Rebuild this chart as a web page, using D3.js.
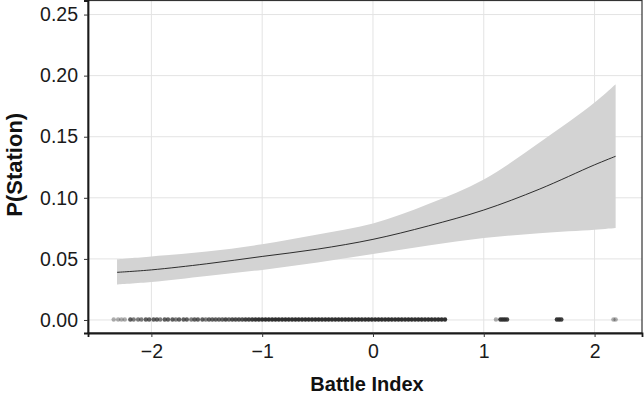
<!DOCTYPE html>
<html>
<head>
<meta charset="utf-8">
<script src="https://cdn.jsdelivr.net/npm/d3@7"></script>
<style>
  body { margin: 0; background: #fff; }
  text { font-family: "Liberation Sans", Arial, Helvetica, sans-serif; }
</style>
</head>
<body>
<div id="viz"></div>
<script>
// tick values
const xTicks = [-2, -1, 0, 1, 2]
const yTicks = [0, 0.05, 0.10, 0.15, 0.20, 0.25]

// fitted probability and confidence band
const fitX = [-2.31, -2.0, -1.5, -1.0, -0.5, 0.0, 0.5, 1.0, 1.5, 2.0, 2.19]
const fitY = [0.039, 0.041, 0.046, 0.052, 0.058, 0.066, 0.077, 0.090, 0.107, 0.127, 0.134]
const lowerY = [0.029, 0.031, 0.036, 0.041, 0.047, 0.054, 0.061, 0.067, 0.071, 0.0738, 0.0752]
const upperY = [0.0497, 0.052, 0.056, 0.062, 0.070, 0.079, 0.095, 0.115, 0.145, 0.178, 0.193]

// observations at y = 0 (position, how many overlap there)
const rugX = [-2.34, -2.30, -2.27, -2.24, -2.19, -2.16, -2.12, -2.09, -2.05, -2.02,
  -1.98, -1.95, -1.92, -1.88, -1.85, -1.81, -1.78, -1.75, -1.71, -1.68,
  -1.64, -1.61, -1.58, -1.54, -1.51, -1.48, -1.45, -1.42, -1.39, -1.36,
  -1.33, -1.30, -1.27, -1.24, -1.21, -1.18, -1.15, -1.12, -1.09, -1.06, -1.03,
  -1.00, -0.97, -0.94, -0.91, -0.88, -0.85, -0.82, -0.79, -0.76, -0.73,
  -0.70, -0.67, -0.64, -0.61, -0.58, -0.55, -0.52, -0.49, -0.46, -0.43,
  -0.40, -0.37, -0.34, -0.31, -0.28, -0.25, -0.22, -0.19, -0.16, -0.13,
  -0.10, -0.07, -0.04, -0.01, 0.02, 0.05, 0.08, 0.11, 0.14, 0.17,
  0.20, 0.23, 0.26, 0.29, 0.32, 0.35, 0.38, 0.41, 0.44, 0.47,
  0.50, 0.53, 0.56, 0.59, 0.62, 0.65,
  1.11, 1.15, 1.17, 1.19, 1.21, 1.66, 1.68, 1.70, 2.17, 2.19]
const rugN = [1, 1, 1, 1, 3, 2, 2, 2, 3, 3,
  3, 3, 2, 3, 3, 3, 2, 3, 3, 3,
  2, 3, 3, 3, 2, 3, 3, 3, 3, 3,
  4, 3, 4, 4, 4, 4, 5, 5, 6, 7, 8,
  12, 12, 12, 12, 12, 12, 12, 12, 12, 12,
  12, 12, 12, 12, 12, 12, 12, 12, 12, 12,
  12, 12, 12, 12, 12, 12, 12, 12, 12, 12,
  12, 12, 12, 12, 12, 12, 12, 12, 12, 12,
  12, 12, 12, 12, 12, 12, 12, 12, 12, 12,
  12, 12, 12, 12, 12, 12,
  1, 6, 8, 8, 5, 6, 8, 5, 1, 1]

const width = 644
const height = 397
const panel = { left: 88, right: 642, top: 0.5, bottom: 333 }

const svg = d3.select('#viz')
  .append('svg')
  .attr('width', width)
  .attr('height', height)

const x = d3.scaleLinear()
  .domain([-2.572, 2.428])
  .range([panel.left, panel.right])

const y = d3.scaleLinear()
  .domain([-0.01066, 0.2615])
  .range([panel.bottom, panel.top])

const g = svg.append('g')

// grid
g.selectAll('.vgrid')
  .data(xTicks)
  .enter().append('line')
  .attr('x1', d => x(d)).attr('x2', d => x(d))
  .attr('y1', panel.top).attr('y2', panel.bottom)
  .attr('stroke', '#e3e3e3')
  .attr('stroke-width', 1)

g.selectAll('.hgrid')
  .data(yTicks)
  .enter().append('line')
  .attr('x1', panel.left).attr('x2', panel.right)
  .attr('y1', d => y(d)).attr('y2', d => y(d))
  .attr('stroke', '#e3e3e3')
  .attr('stroke-width', 1)

// confidence band
const band = fitX.map((d, i) => ({ x: d, lo: lowerY[i], hi: upperY[i], fit: fitY[i] }))

g.append('path')
  .datum(band)
  .attr('fill', '#d3d3d3')
  .attr('d', d3.area()
    .curve(d3.curveCatmullRom.alpha(0.5))
    .x(d => x(d.x))
    .y0(d => y(d.lo))
    .y1(d => y(d.hi)))

g.append('path')
  .datum(band)
  .attr('fill', 'none')
  .attr('stroke', '#1a1a1a')
  .attr('stroke-width', 0.9)
  .attr('d', d3.line()
    .curve(d3.curveCatmullRom.alpha(0.5))
    .x(d => x(d.x))
    .y(d => y(d.fit)))

// observations
g.selectAll('.obs')
  .data(rugX)
  .enter().append('circle')
  .attr('cx', d => x(d))
  .attr('cy', y(0) - 0.5)
  .attr('r', 2.2)
  .attr('fill', '#2e2e2e')
  .attr('fill-opacity', (d, i) => 1 - Math.pow(0.62, rugN[i]))

// panel border
g.append('rect')
  .attr('x', panel.left)
  .attr('y', panel.top)
  .attr('width', panel.right - panel.left)
  .attr('height', panel.bottom - panel.top)
  .attr('fill', 'none')
  .attr('stroke', '#333')
  .attr('stroke-width', 1.2)

// axes
const xAxis = g.append('g')
  .attr('transform', `translate(0, ${panel.bottom})`)
  .call(d3.axisBottom(x).tickValues(xTicks).tickSize(4).tickPadding(7)
    .tickFormat(d => d < 0 ? '\u2212' + Math.abs(d) : d))
xAxis.select('.domain').attr('stroke', '#1a1a1a').attr('stroke-width', 1.8)
xAxis.selectAll('.tick line').attr('stroke', '#333')
xAxis.selectAll('.tick text')
  .attr('font-size', 19.5)
  .attr('fill', '#1a1a1a')
  .style('font-family', '"Liberation Sans", Arial, sans-serif')

const yAxis = g.append('g')
  .attr('transform', `translate(${panel.left}, 0)`)
  .call(d3.axisLeft(y).tickValues(yTicks).tickSize(4).tickPadding(6)
    .tickFormat(d3.format('.2f')))
yAxis.select('.domain').attr('stroke', '#1a1a1a').attr('stroke-width', 1.8)
yAxis.selectAll('.tick line').attr('stroke', '#333')
yAxis.selectAll('.tick text')
  .attr('font-size', 19.5)
  .attr('fill', '#1a1a1a')
  .style('font-family', '"Liberation Sans", Arial, sans-serif')

// axis titles
svg.append('text')
  .text('Battle Index')
  .attr('x', (panel.left + panel.right) / 2 + 2)
  .attr('y', 391)
  .attr('text-anchor', 'middle')
  .attr('font-size', 20)
  .attr('font-weight', 'bold')
  .attr('fill', '#111')

svg.append('text')
  .text('P(Station)')
  .attr('transform', `translate(22, ${(panel.top + panel.bottom) / 2 - 2}) rotate(-90)`)
  .attr('text-anchor', 'middle')
  .attr('font-size', 22)
  .attr('font-weight', 'bold')
  .attr('fill', '#111')
</script>
</body>
</html>
